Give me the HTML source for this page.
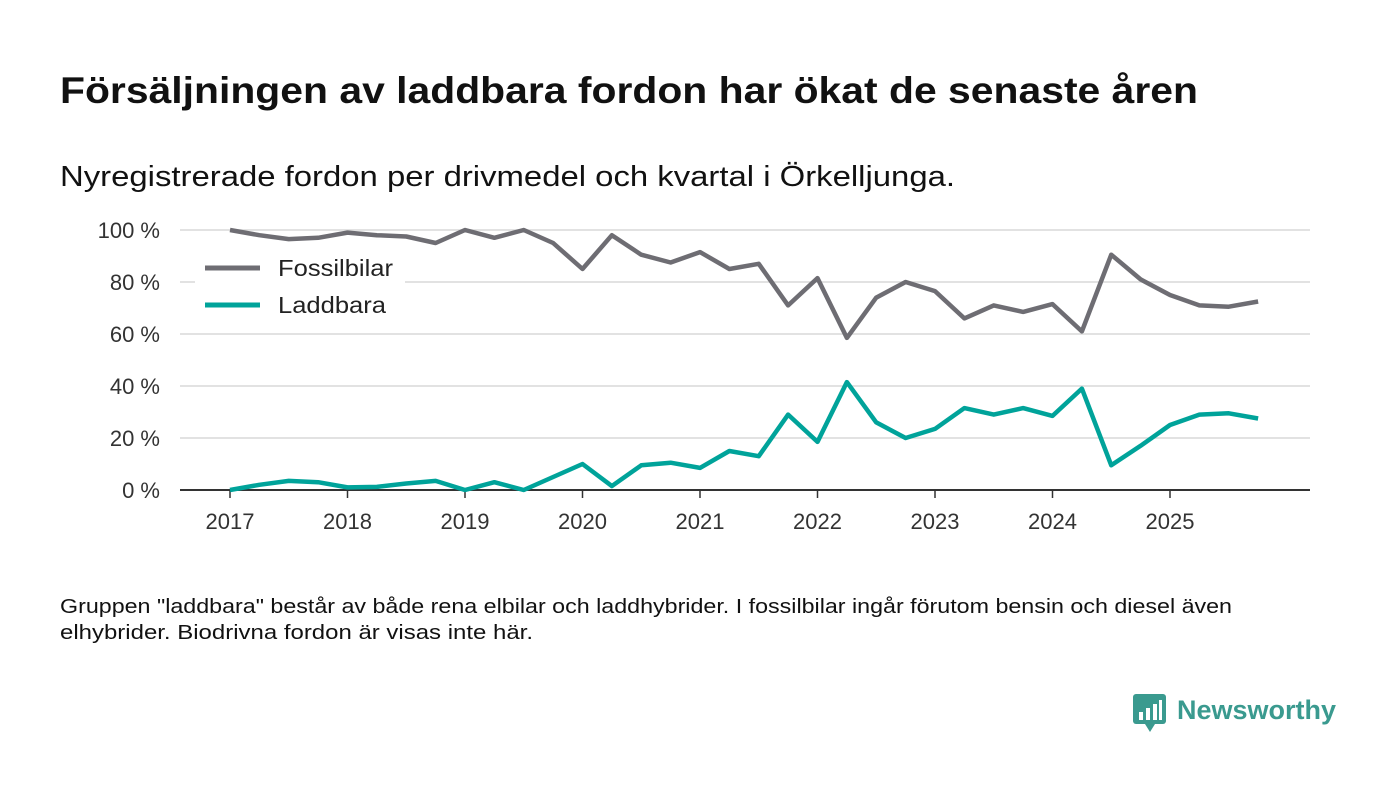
<!DOCTYPE html>
<html><head><meta charset="utf-8"><style>
body{margin:0;width:1400px;height:793px;background:#fff;font-family:"Liberation Sans",sans-serif;overflow:hidden}
svg text{font-family:"Liberation Sans",sans-serif}
</style></head><body>
<svg width="1400" height="793">
<text x="60" y="103" font-size="37" font-weight="bold" fill="#111" textLength="1138" lengthAdjust="spacingAndGlyphs">Försäljningen av laddbara fordon har ökat de senaste åren</text>
<text x="60" y="186" font-size="29" fill="#111" textLength="895" lengthAdjust="spacingAndGlyphs">Nyregistrerade fordon per drivmedel och kvartal i Örkelljunga.</text>
<g id="grid"></g><g id="xaxis"></g><g id="lines"></g>
<g>
<rect x="195" y="250" width="210" height="75" fill="#fff"/>
<line x1="205" y1="268" x2="260" y2="268" stroke="#6e6d73" stroke-width="5"/>
<text x="278" y="276" font-size="23" fill="#222" textLength="115" lengthAdjust="spacingAndGlyphs">Fossilbilar</text>
<line x1="205" y1="305" x2="260" y2="305" stroke="#00a39a" stroke-width="5"/>
<text x="278" y="313" font-size="23" fill="#222" textLength="108" lengthAdjust="spacingAndGlyphs">Laddbara</text>
</g>
<text x="60" y="613" font-size="20" fill="#111" textLength="1172" lengthAdjust="spacingAndGlyphs">Gruppen "laddbara" består av både rena elbilar och laddhybrider. I fossilbilar ingår förutom bensin och diesel även</text>
<text x="60" y="639" font-size="20" fill="#111" textLength="473" lengthAdjust="spacingAndGlyphs">elhybrider. Biodrivna fordon är visas inte här.</text>
<g>
<rect x="1133" y="694" width="33" height="30" rx="3" fill="#3a9a8f"/>
<polygon points="1145,724 1155,724 1150,732" fill="#3a9a8f"/>
<rect x="1139" y="712" width="4" height="8" fill="#fff"/><rect x="1146" y="708" width="4" height="12" fill="#fff"/><rect x="1153" y="704" width="4" height="16" fill="#fff"/><rect x="1159" y="700" width="3" height="20" fill="#fff"/>
<text x="1177" y="719" font-size="27" font-weight="bold" fill="#3a9a8f" textLength="159" lengthAdjust="spacingAndGlyphs">Newsworthy</text>
</g>
</svg>
<script>
const years=["2017","2018","2019","2020","2021","2022","2023","2024","2025"];
const yTicks=[0,20,40,60,80,100];
const fossil=[100,98,96.5,97,99,98,97.5,95,100,97,100,95,85,98,90.5,87.5,91.5,85,87,71,81.5,58.5,74,80,76.5,66,71,68.5,71.5,61,90.5,81,75,71,70.5,72.5];
const laddbara=[0,2,3.5,3,1,1.2,2.5,3.5,0,3,0,5,10,1.5,9.5,10.5,8.5,15,13,29,18.5,41.5,26,20,23.5,31.5,29,31.5,28.5,39,9.5,17,25,29,29.5,27.5];
const NS="http://www.w3.org/2000/svg";
const x=q=>230+q*(1170-230)/32;
const y=v=>490-v*2.6;
function mk(t,a,p){const e=document.createElementNS(NS,t);for(const k in a)e.setAttribute(k,a[k]);p.appendChild(e);return e;}
const grid=document.getElementById('grid');
yTicks.forEach(v=>{
 if(v>0){const l=mk('line',{x1:180,x2:1310,y1:y(v),y2:y(v),stroke:'#d8d8d8','stroke-width':1.5},grid);
 
 }
 const t=mk('text',{x:160,y:y(v)+8,'font-size':22,fill:'#333','text-anchor':'end'},grid);t.textContent=v+' %';
 
 
});
const xa=document.getElementById('xaxis');
const ax=mk('line',{x1:180,x2:1310,y1:490,y2:490,stroke:'#333','stroke-width':2},xa);


years.forEach((yr,i)=>{
 const px=x(i*4);
 mk('line',{x1:px,x2:px,y1:490,y2:498,stroke:'#333','stroke-width':1.5},xa);
 const t=mk('text',{x:px,y:529,'font-size':22,fill:'#333','text-anchor':'middle'},xa);t.textContent=yr;
 
 
});
const lg=document.getElementById('lines');
function line(arr,col,name){
 const p=mk('polyline',{points:arr.map((v,i)=>x(i)+','+y(v)).join(' '),fill:'none',stroke:col,'stroke-width':4.5,'stroke-linejoin':'round'},lg);
 
 
}
line(fossil,'#6e6d73','fossil-line');
line(laddbara,'#00a39a','laddbara-line');
</script>
</body></html>
